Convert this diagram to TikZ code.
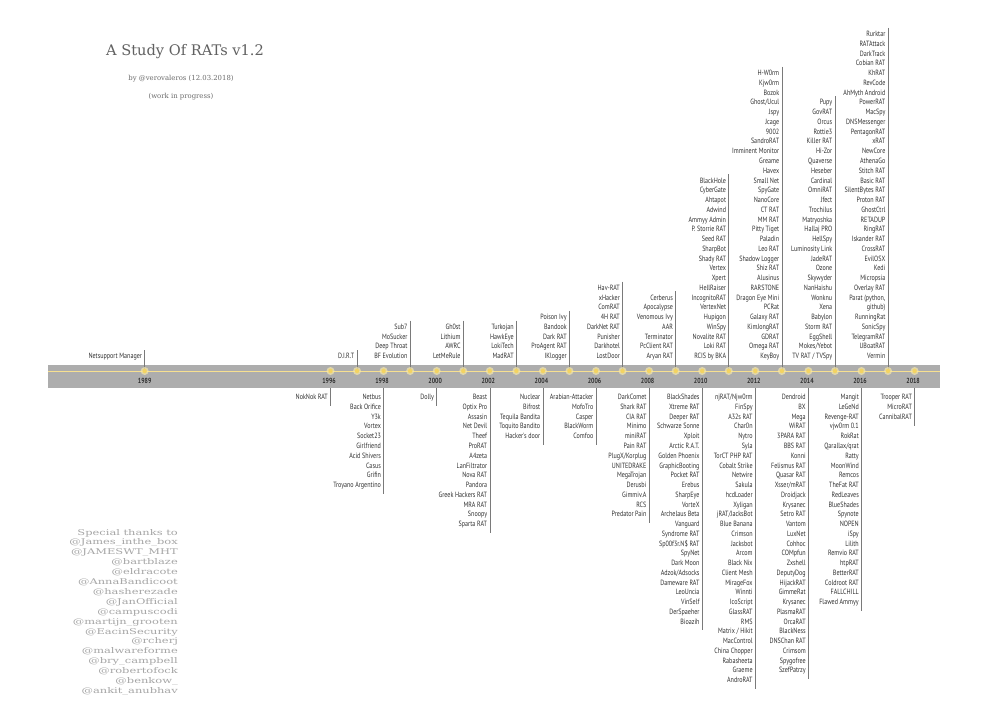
\documentclass[tikz,border=0pt]{standalone}
\usepackage{fontspec}
\newfontfamily\lst{PT Sans}[FakeStretch=0.8]
\newfontfamily\slab{DejaVu Serif}
\newfontfamily\wslab{DejaVu Serif}[FakeStretch=1.45]
\definecolor{txt}{HTML}{303030}
\definecolor{band}{HTML}{ADADAD}
\definecolor{gold}{HTML}{F3D361}
\definecolor{glow}{HTML}{F7E8A8}
\definecolor{conncol}{HTML}{7A7A7A}
\definecolor{thx}{HTML}{A6A6A6}
\tikzset{
  item/.style={font=\lst\fontsize{7.6}{8}\selectfont, text=txt, inner sep=0pt, anchor=base east},
  yr/.style={font=\lst\bfseries\fontsize{7.4}{8}\selectfont, text=txt, inner sep=0pt, anchor=base},
  conn/.style={draw=conncol, line width=0.6pt},
  dotmark/.style={circle, fill=gold, inner sep=0pt, minimum size=4.4pt},
  glowmark/.style={circle, fill=glow, fill opacity=0.7, inner sep=0pt, minimum size=8pt},
  thanks/.style={font=\wslab\fontsize{7.9}{8}\selectfont, text=thx, inner sep=0pt, anchor=base east},
}
\newcommand{\yx}[1]{\pgfmathsetmacro{\xx}{330.5+26.55*(#1-1996)}}
\newcommand{\upcol}[2]{%
  \yx{#1}%
  \foreach \itm [count=\n] in {#2} {\xdef\ncnt{\n}}%
  \pgfmathsetmacro{\ytop}{356-(\ncnt-1)*9.76}%
  \pgfmathsetmacro{\ylin}{\ytop-6}%
  \foreach \itm [count=\i from 0] in {#2} {%
    \node[item] (u#1-\i) at (\xx-2.5, \ytop+\i*9.76+2.7) {\itm};}%
  \coordinate (ut#1) at (\xx, \ylin);%
  \draw[conn] (ut#1) -- (d#1);%
}
\newcommand{\lowcol}[2]{%
  \yx{#1}%
  \foreach \itm [count=\n] in {#2} {\xdef\ncnt{\n}}%
  \pgfmathsetmacro{\ybot}{397+(\ncnt-1)*9.76+9}%
  \foreach \itm [count=\i from 0] in {#2} {%
    \node[item] (l#1-\i) at (\xx-2.5, 397+\i*9.76+2.7) {\itm};}%
  \coordinate (ls#1) at (\xx, 388);%
  \coordinate (lb#1) at (\xx, \ybot);%
  \draw[conn] (ls#1) -- (lb#1);%
}
\begin{document}
\begin{tikzpicture}[x=1pt,y=-1pt]
\useasboundingbox[fill=white] (0,0) rectangle (1000,704);
% title
\node[font=\slab\fontsize{14.6}{18}\selectfont, text=black!62, inner sep=0pt] (title) at (185,52) {A Study Of RATs v1.2};
\node[font=\slab\fontsize{6.9}{8}\selectfont, text=black!58, inner sep=0pt] (by) at (181,79) {by @verovaleros (12.03.2018)};
\node[font=\slab\fontsize{6.9}{8}\selectfont, text=black!58, inner sep=0pt] (wip) at (181,97) {(work in progress)};
% band
\fill[band] (48,365) rectangle (940,388);
\draw[gold!70!white, line width=0.8pt] (48,371) -- (940,371);
% dot coordinates
\foreach \yy in {1989,1996,1997,...,2018} {
  \yx{\yy}
  \coordinate (d\yy) at (\xx,371);
}
% year labels
\foreach \yy in {1996,1998,...,2018} {
  \yx{\yy}
  \node[yr] (y\yy) at (\xx-1.5,383) {\yy};
}
\yx{1989}\node[yr] (y1989) at (\xx,383) {1989};
% upper columns
\upcol{1989}{Netsupport Manager}
\upcol{1997}{D.I.R.T}
\upcol{1999}{Sub7, MoSucker, Deep Throat, BF Evolution}
\upcol{2001}{Gh0st, Lithium, AWRC, LetMeRule}
\upcol{2003}{Turkojan, HawkEye, LokiTech, MadRAT}
\upcol{2005}{Poison Ivy, Bandook, Dark RAT, ProAgent RAT, IKlogger}
\upcol{2007}{Hav-RAT, xHacker, ComRAT, 4H RAT, DarkNet RAT, Punisher, Darkhotel, LostDoor}
\upcol{2009}{Cerberus, Apocalypse, Venomous Ivy, AAR, Terminator, PcClient RAT, Aryan RAT}
\upcol{2011}{BlackHole, CyberGate, Ahtapot, Adwind, Ammyy Admin, P. Storrie RAT, Seed RAT, SharpBot, Shady RAT, Vertex, Xpert, HellRaiser, IncognitoRAT, VertexNet, Hupigon, WinSpy, Novalite RAT, Loki RAT, RCIS by BKA}
\upcol{2013}{H-W0rm, Kjw0rm, Bozok, Ghost/Ucul, Jspy, Jcage, 9002, SandroRAT, Imminent Monitor, Greame, Havex, Small Net, SpyGate, NanoCore, CT RAT, MM RAT, Pitty Tiget, Paladin, Leo RAT, Shadow Logger, Shiz RAT, Alusinus, RARSTONE, Dragon Eye Mini, PCRat, Galaxy RAT, KimJongRAT, GDRAT, Omega RAT, KeyBoy}
\upcol{2015}{Pupy, GovRAT, Orcus, Rottie3, Killer RAT, Hi-Zor, Quaverse, Heseber, Cardinal, OmniRAT, Jfect, Trochilus, Matryoshka, Hallaj PRO, HellSpy, Luminosity Link, JadeRAT, Ozone, Skywyder, NanHaishu, Wonknu, Xena, Babylon, Storm RAT, EggShell, Mokes/Yebot, TV RAT / TVSpy}
\upcol{2017}{Rurktar, RATAttack, DarkTrack, Cobian RAT, KhRAT, RevCode, AhMyth Android, PowerRAT, MacSpy, DNSMessenger, PentagonRAT, xRAT, NewCore, AthenaGo, Stitch RAT, Basic RAT, SilentBytes RAT, Proton RAT, GhostCtrl, RETADUP, RingRAT, Iskander RAT, CrossRAT, EvilOSX, Kedi, Micropsia, Overlay RAT, {Parat (python,}, github), RunningRat, SonicSpy, TelegramRAT, UBoatRAT, Vermin}
% lower columns
\lowcol{1996}{NokNok RAT}
\lowcol{1998}{Netbus, Back Orifice, Y3k, Vortex, Socket23, Girlfriend, Acid Shivers, Casus, Grifin, Troyano Argentino}
\lowcol{2000}{Dolly}
\lowcol{2002}{Beast, Optix Pro, Assasin, Net Devil, Theef, ProRAT, A4zeta, LanFiltrator, Nova RAT, Pandora, Greek Hackers RAT, MRA RAT, Snoopy, Sparta RAT}
\lowcol{2004}{Nuclear, Bifrost, Tequila Bandita, Toquito Bandito, Hacker's door}
\lowcol{2006}{Arabian-Attacker, MofoTro, Casper, BlackWorm, Comfoo}
\lowcol{2008}{DarkComet, Shark RAT, CIA RAT, Minimo, miniRAT, Pain RAT, PlugX/Korplug, UNITEDRAKE, MegaTrojan, Derusbi, Gimmiv.A, RCS, Predator Pain}
\lowcol{2010}{BlackShades, Xtreme RAT, Deeper RAT, Schwarze Sonne, Xploit, Arctic R.A.T., Golden Phoenix, GraphicBooting, Pocket RAT, Erebus, SharpEye, VorteX, Archelaus Beta, Vanguard, Syndrome RAT, Sp00f3r.N\$ RAT, SpyNet, Dark Moon, Adzok/Adsocks, Dameware RAT, LeoUncia, VinSelf, DerSpaeher, Bioazih}
\lowcol{2012}{njRAT/Njw0rm, FinSpy, A32s RAT, Char0n, Nytro, Syla, TorCT PHP RAT, Cobalt Strike, Netwire, Sakula, hcdLoader, Xyligan, jRAT/JacksBot, Blue Banana, Crimson, Jacksbot, Arcom, Black Nix, Client Mesh, MirageFox, Winnti, IcoScript, GlassRAT, RMS, Matrix / Hikit, MacControl, China Chopper, Rabasheeta, Graeme, AndroRAT}
\lowcol{2014}{Dendroid, BX, Mega, WiRAT, 3PARA RAT, BBS RAT, Konni, Felismus RAT, Quasar RAT, Xsser/mRAT, Droidjack, Krysanec, Setro RAT, Vantom, LuxNet, Cohhoc, COMpfun, Zxshell, DeputyDog, HijackRAT, GimmeRat, Krysanec, PlasmaRAT, OrcaRAT, BlackNess, DNSChan RAT, Crimsom, Spygofree, SzefPatrzy}
\lowcol{2016}{Mangit, LeGeNd, Revenge-RAT, vjw0rm 0.1, RokRat, Qarallax/qrat, Ratty, MoonWind, Remcos, TheFat RAT, RedLeaves, BlueShades, Spynote, NOPEN, iSpy, Lilith, Remvio RAT, htpRAT, BetterRAT, Coldroot RAT, FALLCHILL, Flawed Ammyy}
\lowcol{2018}{Trooper RAT, MicroRAT, CannibalRAT}
% dots on top
\foreach \yy in {1989,1996,1997,...,2018} {
  \node[glowmark] (h\yy) at (d\yy) {};
  \node[dotmark] (g\yy) at (d\yy) {};
}
% thanks
\foreach \nm [count=\i from 0] in {Special thanks to, @James\_inthe\_box, @JAMESWT\_MHT, @bartblaze, @eldracote, @AnnaBandicoot, @hasherezade, @JanOfficial, @campuscodi, @martijn\_grooten, @EacinSecurity, @rcherj, @malwareforme, @bry\_campbell, @robertofock, @benkow\_, @ankit\_anubhav} {
  \node[thanks] (t\i) at (178, 535+\i*9.9) {\nm};
}
\end{tikzpicture}
\end{document}
